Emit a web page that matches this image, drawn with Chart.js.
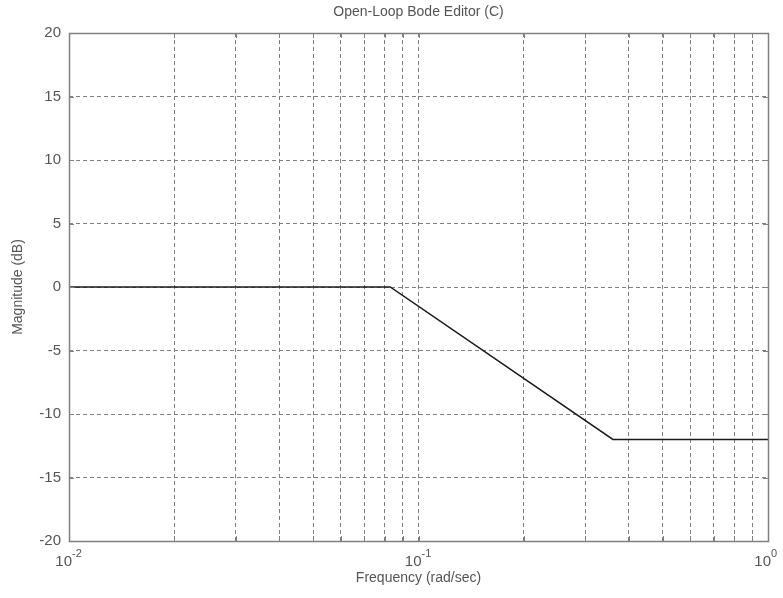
<!DOCTYPE html>
<html lang="en">
  <head>
    <meta charset="UTF-8" />
    <title>Open-Loop Bode Editor (C)</title>
    <script src="https://cdn.jsdelivr.net/npm/chart.js"></script>
    <style>
      body { margin: 0; background: #fff; }
    </style>
  </head>
  <body>
    <canvas id="chart" width="783" height="598"></canvas>
    <script>
      // breakpoints of the magnitude curve
      const freq = [0.01, 0.083, 0.36, 1];
      const magDb = [0, 0, -12, -12];

      // axis ticks
      const xGrid = [0.01, 0.02, 0.03, 0.04, 0.05, 0.06, 0.07, 0.08, 0.09,
                     0.1, 0.2, 0.3, 0.4, 0.5, 0.6, 0.7, 0.8, 0.9, 1];
      const xLabelVals = [0.01, 0.1, 1];
      const xLabelExp = ["-2", "-1", "0"];
      const yTicks = [-20, -15, -10, -5, 0, 5, 10, 15, 20];

      const txt = "#555555";
      const axisCol = "#808080";
      const font = "Liberation Sans, Arial, sans-serif";

      // title, x labels with exponents, axis labels, inward tick marks
      const decor = {
        id: "decor",
        afterDraw(chart) {
          const c = chart.ctx;
          const a = chart.chartArea;
          const xs = chart.scales.x;
          const ys = chart.scales.y;
          c.save();
          c.setLineDash([]);
          c.strokeStyle = axisCol;
          c.lineWidth = 1;
          c.beginPath();
          xGrid.forEach(v => {
            const px = Math.round(xs.getPixelForValue(v)) + 0.5;
            c.moveTo(px, a.top); c.lineTo(px, a.top + 5);
            c.moveTo(px, a.bottom); c.lineTo(px, a.bottom - 5);
          });
          yTicks.forEach(v => {
            const py = Math.round(ys.getPixelForValue(v)) + 0.5;
            c.moveTo(a.left, py); c.lineTo(a.left + 5, py);
            c.moveTo(a.right, py); c.lineTo(a.right - 5, py);
          });
          c.stroke();
          c.lineWidth = 1.5;
          c.strokeRect(Math.round(a.left) + 0.5, Math.round(a.top) + 0.5,
                       Math.round(a.right - a.left), Math.round(a.bottom - a.top));

          c.fillStyle = txt;
          c.font = "14px " + font;
          c.textAlign = "center";
          c.textBaseline = "middle";
          c.fillText("Open-Loop Bode Editor (C)", (a.left + a.right) / 2, 12);
          c.fillText("Frequency (rad/sec)", (a.left + a.right) / 2, 578);

          xLabelVals.forEach((v, i) => {
            const px = xs.getPixelForValue(v);
            c.font = "15px " + font;
            c.textAlign = "right";
            c.textBaseline = "alphabetic";
            c.fillText("10", px + 3, 566);
            c.font = "11px " + font;
            c.textAlign = "left";
            c.fillText(xLabelExp[i], px + 3, 557);
          });

          c.translate(18, (a.top + a.bottom) / 2);
          c.rotate(-Math.PI / 2);
          c.font = "14px " + font;
          c.textAlign = "center";
          c.textBaseline = "middle";
          c.fillText("Magnitude (dB)", 0, 0);
          c.restore();
        }
      };

      new Chart(document.getElementById("chart"), {
        type: "scatter",
        data: {
          datasets: [{
            data: freq.map((f, i) => ({ x: f, y: magDb[i] })),
            showLine: true,
            borderColor: "#1a1a1a",
            borderWidth: 1.5,
            pointRadius: 0,
            tension: 0
          }]
        },
        options: {
          responsive: false,
          animation: false,
          layout: { padding: { top: 33, right: 15, left: 0, bottom: 0 } },
          plugins: { legend: { display: false }, tooltip: { enabled: false } },
          scales: {
            x: {
              type: "logarithmic",
              min: 0.01,
              max: 1,
              afterBuildTicks: s => { s.ticks = xGrid.map(v => ({ value: v })); },
              afterFit: s => { s.height = 57; },
              border: { display: false, dash: [4, 3] },
              grid: { color: axisCol, drawTicks: false },
              ticks: { display: false }
            },
            y: {
              min: -20,
              max: 20,
              afterBuildTicks: s => { s.ticks = yTicks.map(v => ({ value: v })); },
              afterFit: s => { s.width = 69; },
              border: { display: false, dash: [4, 3] },
              grid: { color: axisCol, drawTicks: false },
              ticks: { color: txt, padding: 8, font: { size: 15, family: font } }
            }
          }
        },
        plugins: [decor]
      });
    </script>
  </body>
</html>
